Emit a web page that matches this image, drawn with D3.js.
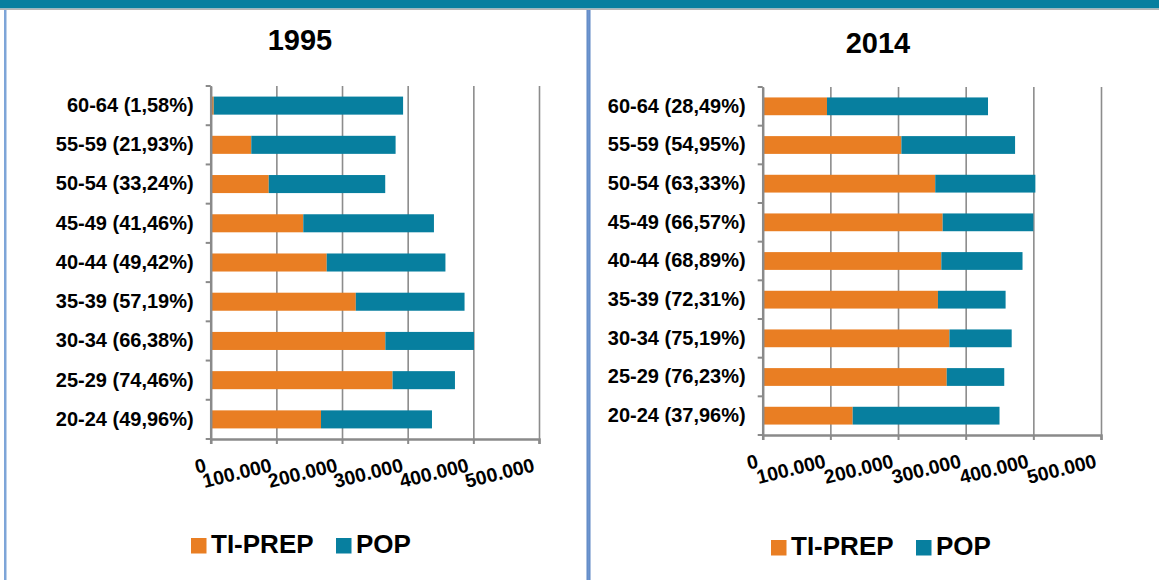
<!DOCTYPE html>
<html>
	<head>
		<meta charset="utf-8">
		<title>TI-PREP / POP 1995 - 2014</title>
		<style>
			body { margin: 0; background: #fff; }
			text { font-family: "Liberation Sans", Arial, sans-serif; font-weight: bold; fill: #000; }
		</style>
	</head>
	<body>
		<script src="https://d3js.org/d3.v7.min.js"></script>
		<script>
			// data (top row first)
			let labels1995 = ["60-64 (1,58%)", "55-59 (21,93%)", "50-54 (33,24%)", "45-49 (41,46%)", "40-44 (49,42%)",
				"35-39 (57,19%)", "30-34 (66,38%)", "25-29 (74,46%)", "20-24 (49,96%)"];
			let tiPrep1995 = [4600, 61800, 88400, 141000, 176700, 221000, 266000, 277000, 168000];
			let pop1995 = [288400, 219800, 177400, 199000, 180800, 165600, 135000, 95000, 169000];

			let labels2014 = ["60-64 (28,49%)", "55-59 (54,95%)", "50-54 (63,33%)", "45-49 (66,57%)", "40-44 (68,89%)",
				"35-39 (72,31%)", "30-34 (75,19%)", "25-29 (76,23%)", "20-24 (37,96%)"];
			let tiPrep2014 = [95000, 205000, 255000, 266000, 264000, 259000, 276000, 272000, 133000];
			let pop2014 = [238000, 168000, 148000, 134000, 120000, 100000, 92000, 85000, 217000];

			let seriesNames = ["TI-PREP", "POP"];
			let seriesColors = ["#e97e23", "#077f9f"];
			let xTicks = [0, 100000, 200000, 300000, 400000, 500000];
			let xMax = 500000;

			let fmt = d3.formatLocale({decimal: ",", thousands: ".", grouping: [3], currency: ["", ""]}).format(",");

			function translateHelper(x, y) {
				return 'translate(' + x + ', ' + y + ')';
			}

			let svg = d3.select('body').append('svg')
				.attr('width', 1159).attr('height', 580);

			// frame: top band, panel borders
			svg.append('rect').attr('x', 0).attr('y', 0).attr('width', 1159).attr('height', 8.5).attr('fill', '#077f9f');
			svg.append('rect').attr('x', 0).attr('y', 8.5).attr('width', 1159).attr('height', 1.5).attr('fill', '#b4b4b4');
			svg.append('rect').attr('x', 4).attr('y', 10).attr('width', 2.5).attr('height', 570).attr('fill', '#7ea5d8');
			svg.append('rect').attr('x', 586.5).attr('y', 10).attr('width', 4).attr('height', 570).attr('fill', '#5d86c3');
			svg.append('rect').attr('x', 587.5).attr('y', 10).attr('width', 2).attr('height', 570).attr('fill', '#6e95cf');

			function drawPanel(cfg) {
				let x = d3.scaleLinear().domain([0, xMax]).range([cfg.left, cfg.right]);
				let y = d3.scaleBand().domain(cfg.labels).range([cfg.top, cfg.bottom])
					.paddingInner(0.54).paddingOuter(0.27);
				let g = svg.append('g');

				g.append('text').attr('x', cfg.titleX).attr('y', cfg.titleY)
					.attr('text-anchor', 'middle').style('font-size', '29px').text(cfg.title);

				// vertical gridlines
				g.append('g').attr('transform', translateHelper(0, cfg.bottom))
					.call(d3.axisBottom(x).tickValues(xTicks).tickSize(-(cfg.bottom - cfg.top)).tickFormat(''))
					.call(a => a.select('.domain').remove())
					.call(a => a.selectAll('line').attr('stroke', '#8c8c8c').attr('stroke-width', 1.6));

				// stacked bars
				let rows = cfg.labels.map((l, i) => ({label: l, vals: [cfg.tiPrep[i], cfg.pop[i]]}));
				rows.forEach(r => {
					let start = 0;
					r.vals.forEach((v, k) => {
						g.append('rect')
							.attr('x', x(start)).attr('y', y(r.label))
							.attr('width', x(start + v) - x(start)).attr('height', y.bandwidth())
							.attr('fill', seriesColors[k]);
						start += v;
					});
				});

				// x axis
				let xa = g.append('g').attr('transform', translateHelper(0, cfg.bottom))
					.call(d3.axisBottom(x).tickValues(xTicks).tickSize(5).tickFormat(fmt));
				xa.select('.domain').attr('stroke', '#8a8a8a').attr('stroke-width', 2.5);
				xa.selectAll('line').attr('stroke', '#8a8a8a').attr('stroke-width', 2);
				xa.selectAll('text')
					.attr('y', 0).attr('dy', 0)
					.attr('text-anchor', 'end')
					.attr('transform', 'translate(-4, ' + cfg.tickLabelDy + ') rotate(-14)')
					.style('font-size', '19.5px').style('font-family', '"Liberation Sans", Arial, sans-serif')
					.style('font-weight', 'bold').attr('fill', '#000');

				// y axis with labels
				let ya = g.append('g').attr('transform', translateHelper(cfg.left, 0))
					.call(d3.axisLeft(y).tickSize(0).tickPadding(17));
				ya.select('.domain').attr('stroke', '#8a8a8a').attr('stroke-width', 2.5);
				ya.selectAll('text')
					.style('font-size', '20px').style('font-family', '"Liberation Sans", Arial, sans-serif')
					.style('font-weight', 'bold').attr('fill', '#000');

				// category boundary ticks
				let half = y.step() * y.paddingInner() / 2;
				let bounds = cfg.labels.map(l => y(l) - half).concat([cfg.bottom]);
				g.selectAll('.ytick').data(bounds).enter().append('line')
					.attr('x1', cfg.left - 5).attr('x2', cfg.left)
					.attr('y1', d => d).attr('y2', d => d)
					.attr('stroke', '#8a8a8a').attr('stroke-width', 2);

				// legend
				let lg = g.append('g').attr('transform', translateHelper(cfg.legendX, cfg.legendY));
				let offsets = [0, 145];
				seriesNames.forEach((s, k) => {
					lg.append('rect').attr('x', offsets[k]).attr('y', -15).attr('width', 15.5).attr('height', 15.5)
						.attr('fill', seriesColors[k]);
					lg.append('text').attr('x', offsets[k] + 20).attr('y', 0)
						.style('font-size', '26px').text(s);
				});
			}

			drawPanel({
				title: '1995', titleX: 300, titleY: 50,
				labels: labels1995, tiPrep: tiPrep1995, pop: pop1995,
				left: 210.7, right: 539, top: 86, bottom: 439, tickLabelDy: 32,
				legendX: 191, legendY: 553
			});
			drawPanel({
				title: '2014', titleX: 878, titleY: 53,
				labels: labels2014, tiPrep: tiPrep2014, pop: pop2014,
				left: 762.7, right: 1101, top: 87, bottom: 435, tickLabelDy: 32,
				legendX: 771, legendY: 555
			});
		</script>
	</body>
</html>
